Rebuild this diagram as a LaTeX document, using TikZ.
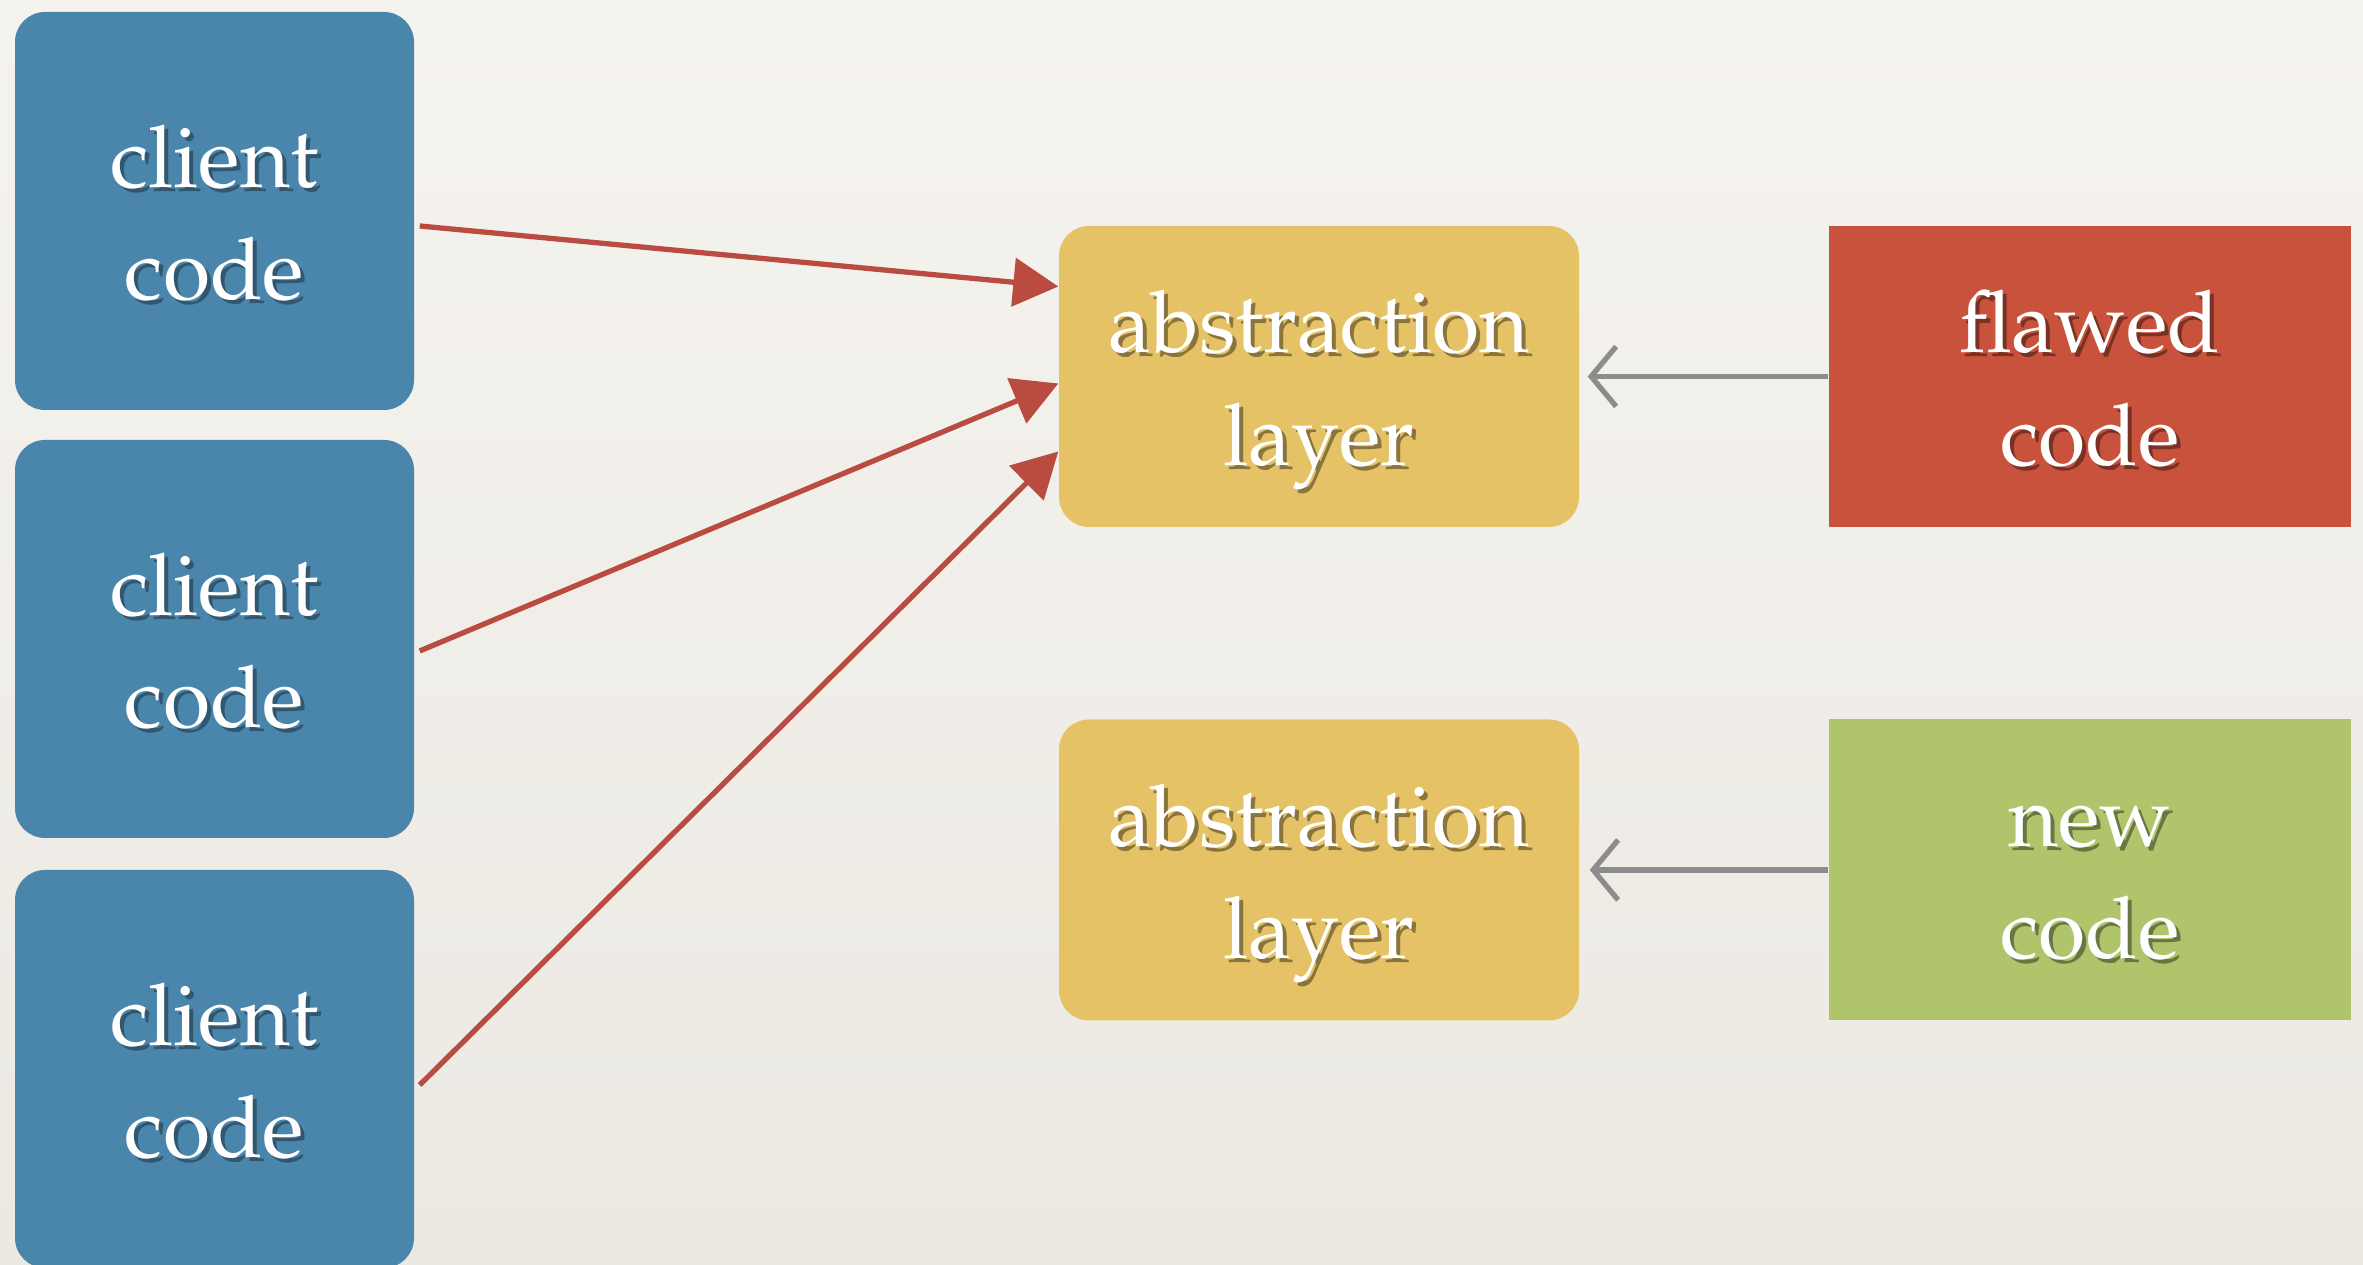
\documentclass[tikz,border=0pt]{standalone}
\usepackage[T1]{fontenc}
\usepackage{mathpazo}
\usetikzlibrary{
    arrows.meta,
    calc,
    positioning
}

\definecolor{paper}{HTML}{F5F3EE}
\definecolor{paperlow}{HTML}{ECE9E3}
\definecolor{clientblue}{HTML}{4A86AB}
\definecolor{layeryellow}{HTML}{E4C265}
\definecolor{flawedred}{HTML}{C8523B}
\definecolor{newgreen}{HTML}{B0C46C}
\definecolor{arrowred}{HTML}{B94B40}
\definecolor{arrowgray}{HTML}{8C8C8C}

\tikzset{
    box/.style={inner sep=0pt, text=white, font=\fontsize{24.5}{32}\selectfont},
    client/.style={box, fill=clientblue, rounded corners=0.3cm,
        minimum width=3.99cm, minimum height=3.98cm,
        execute at begin node=\def\shadowcol{clientblue!65!black}},
    layer/.style={box, fill=layeryellow, rounded corners=0.3cm,
        minimum width=5.2cm, minimum height=3.01cm,
        execute at begin node=\def\shadowcol{layeryellow!60!black}},
    impl/.style={box, minimum width=5.22cm, minimum height=3.01cm},
    uses/.style={draw=arrowred, line width=1.5pt, -{Triangle[length=0.45cm,width=0.48cm]}},
    wraps/.style={draw=arrowgray, line width=1.5pt, -{Straight Barb[length=0.25cm,width=0.6cm]}}
}

% white text with a soft dark drop shadow
\newcommand{\boxtext}[2]{%
    \raisebox{-3.4pt}[\height][\depth]{%
    \makebox[0pt][l]{\hspace*{1.1pt}\raisebox{-1.1pt}{\color{\shadowcol}\begin{tabular}{@{}c@{}}#1\\#2\end{tabular}}}%
    \begin{tabular}{@{}c@{}}#1\\#2\end{tabular}}}

\begin{document}
\begin{tikzpicture}
    \clip (0, 0) rectangle (23.63, 12.65);
    \shade[top color=paper, bottom color=paperlow] (0, 0) rectangle (23.63, 12.65);

    \node[client] (client1) at (2.145, 10.54) {\boxtext{client}{code}};
    \node[client] (client2) at (2.145, 6.26) {\boxtext{client}{code}};
    \node[client] (client3) at (2.145, 1.96) {\boxtext{client}{code}};

    \node[layer] (layer1) at (13.19, 8.885) {\boxtext{abstraction}{layer}};
    \node[layer] (layer2) at (13.19, 3.95) {\boxtext{abstraction}{layer}};

    \node[impl, fill=flawedred, execute at begin node=\def\shadowcol{flawedred!60!black}]
        (flawed) at (20.90, 8.885) {\boxtext{flawed}{code}};
    \node[impl, fill=newgreen, execute at begin node=\def\shadowcol{newgreen!60!black}]
        (new) at (20.90, 3.95) {\boxtext{new}{code}};

    \draw[uses] ($(client1.east)+(0.05,-0.15)$) -- ($(layer1.west)+(0,0.9)$);
    \draw[uses] ($(client2.east)+(0.05,-0.12)$) -- ($(layer1.west)+(0,-0.07)$);
    \draw[uses] ($(client3.east)+(0.05,-0.16)$) -- ($(layer1.west)+(0,-0.75)$);

    \draw[wraps] (flawed.west) -- ($(layer1.east)+(0.08,0)$);
    \draw[wraps] (new.west) -- ($(layer2.east)+(0.1,0)$);
\end{tikzpicture}
\end{document}
